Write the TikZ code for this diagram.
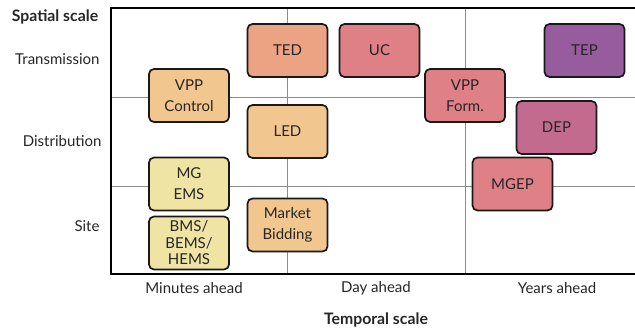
\documentclass[tikz,border=0pt]{standalone}
\usepackage{fontspec}
\setmainfont{Lato}
\begin{document}
\begin{tikzpicture}[x=1pt,y=-1pt,
  every node/.style={font=\fontsize{15}{21}\selectfont, text=black!85},
  block/.style={draw=black!90, line width=1.7pt, rounded corners=5pt,
    minimum width=80pt, minimum height=53pt, align=center, inner sep=1pt},
  gridline/.style={draw=black!45, line width=0.9pt},
  axisline/.style={draw=black, line width=1.9pt},
  axlabel/.style={font=\bfseries\fontsize{15.8}{18}\selectfont, text=black!85}]
\definecolor{cOrange}{HTML}{EBA384}
\definecolor{cRose}{HTML}{DE8085}
\definecolor{cPurple}{HTML}{975C9D}
\definecolor{cPeach}{HTML}{F2C68F}
\definecolor{cMauve}{HTML}{C36B8F}
\definecolor{cSand}{HTML}{F0E4A4}
\useasboundingbox (0,0) rectangle (635,328);

% grid
\draw[gridline] (287,8) -- (287,274);
\draw[gridline] (465,8) -- (465,274);
\draw[gridline] (111,97) -- (635,97);
\draw[gridline] (111,186) -- (635,186);

% axes frame
\draw[axisline] (635,8) -- (111,8) -- (111,274) -- (635,274);

% blocks
\node[block, fill=cOrange] (ted) at (287.5,50.5) {TED};
\node[block, fill=cRose] (uc) at (379.5,50.5) {UC};
\node[block, fill=cPurple] (tep) at (584.5,50.5) {TEP};
\node[block, fill=cPeach] (vppc) at (189,95.5) {VPP\\Control};
\node[block, fill=cPeach] (led) at (287.5,131.5) {LED};
\node[block, fill=cRose] (vppf) at (465,95.5) {VPP\\Form.};
\node[block, fill=cMauve] (dep) at (556.5,127.5) {DEP};
\node[block, fill=cRose] (mgep) at (512.5,184) {MGEP};
\node[block, fill=cSand] (mgems) at (189,184) {MG\\EMS};
\node[block, fill=cSand, font=\fontsize{15}{16.5}\selectfont] (bms) at (189,243) {BMS/\\BEMS/\\HEMS};
\node[block, fill=cPeach] (mkt) at (287.5,225) {Market\\Bidding};

% axis labels
\node[axlabel] (spat) at (55,17) {Spatial scale};
\node[anchor=east] (trans) at (103,59) {Transmission};
\node[anchor=east] (dist) at (105,141) {Distribution};
\node[anchor=east] (site) at (103,226) {Site};
\node (min) at (194,288) {Minutes ahead};
\node (day) at (376,288) {Day ahead};
\node (yrs) at (557,288) {Years ahead};
\node[axlabel] (temp) at (376,320) {Temporal scale};
\end{tikzpicture}
\end{document}
